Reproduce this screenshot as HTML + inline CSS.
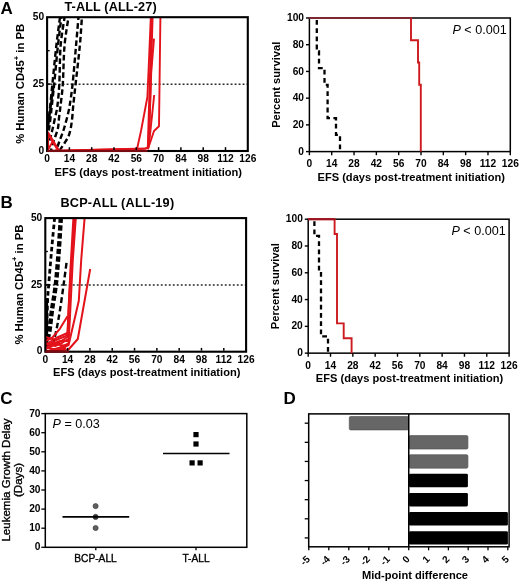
<!DOCTYPE html>
<html><head><meta charset="utf-8"><style>
html,body{margin:0;padding:0;background:#fff;}
svg{display:block;filter:blur(0.3px);}
text{font-family:"Liberation Sans",sans-serif;fill:#000;}
</style></head><body>
<svg width="520" height="583" viewBox="0 0 520 583">
<rect width="520" height="583" fill="#fff"/>
<text x="0.60" y="13.60" font-size="17" font-weight="bold" text-anchor="start" >A</text>
<text x="0.60" y="207.80" font-size="17" font-weight="bold" text-anchor="start" >B</text>
<text x="0.30" y="404.20" font-size="17" font-weight="bold" text-anchor="start" >C</text>
<text x="283.60" y="404.00" font-size="17" font-weight="bold" text-anchor="start" >D</text>
<line x1="47.10" y1="84.25" x2="247.80" y2="84.25" stroke="#2a2a2a" stroke-width="1.45" stroke-dasharray="1.9 2.1" stroke-dashoffset="0.5"/>
<polyline points="47.30,130.00 50.20,110.00 52.60,92.00 54.20,84.00" fill="none" stroke="#000" stroke-width="2.2"/>
<path d="M60.00,17.20 C59.38,22.00 57.57,34.87 56.30,46.00 C55.03,57.13 53.42,74.00 52.40,84.00 C51.38,94.00 50.77,100.50 50.20,106.00 C49.63,111.50 49.40,113.33 49.00,117.00 C48.60,120.67 48.00,126.17 47.80,128.00" fill="none" stroke-dashoffset="0" stroke="#000" stroke-width="2.4" stroke-dasharray="5.6 3.0"/>
<path d="M61.40,17.20 C60.82,22.00 59.10,34.87 57.90,46.00 C56.70,57.13 55.22,74.00 54.20,84.00 C53.18,94.00 52.40,100.50 51.80,106.00 C51.20,111.50 51.03,113.33 50.60,117.00 C50.17,120.67 49.63,124.83 49.20,128.00 C48.77,131.17 48.20,134.67 48.00,136.00" fill="none" stroke-dashoffset="3.5" stroke="#000" stroke-width="2.4" stroke-dasharray="5.6 3.0"/>
<path d="M64.60,17.20 C63.93,22.00 61.48,34.87 60.60,46.00 C59.72,57.13 59.83,74.00 59.30,84.00 C58.77,94.00 58.08,100.50 57.40,106.00 C56.72,111.50 55.97,113.33 55.20,117.00 C54.43,120.67 53.53,124.83 52.80,128.00 C52.07,131.17 51.43,133.50 50.80,136.00 C50.17,138.50 49.30,141.83 49.00,143.00" fill="none" stroke-dashoffset="1.5" stroke="#000" stroke-width="2.4" stroke-dasharray="5.6 3.0"/>
<path d="M68.50,17.20 C67.83,22.00 65.45,34.87 64.50,46.00 C63.55,57.13 63.47,74.00 62.80,84.00 C62.13,94.00 61.12,100.50 60.50,106.00 C59.88,111.50 59.52,113.33 59.10,117.00 C58.68,120.67 58.60,124.83 58.00,128.00 C57.40,131.17 56.33,133.50 55.50,136.00 C54.67,138.50 53.75,140.57 53.00,143.00 C52.25,145.43 51.33,149.33 51.00,150.60" fill="none" stroke-dashoffset="5" stroke="#000" stroke-width="2.4" stroke-dasharray="5.6 3.0"/>
<path d="M78.50,17.20 C78.08,22.00 76.98,34.87 76.00,46.00 C75.02,57.13 73.67,74.00 72.60,84.00 C71.53,94.00 70.50,100.50 69.60,106.00 C68.70,111.50 68.10,113.33 67.20,117.00 C66.30,120.67 65.17,124.83 64.20,128.00 C63.23,131.17 62.30,133.50 61.40,136.00 C60.50,138.50 59.70,140.57 58.80,143.00 C57.90,145.43 56.47,149.33 56.00,150.60" fill="none" stroke-dashoffset="2.5" stroke="#000" stroke-width="2.4" stroke-dasharray="5.6 3.0"/>
<path d="M81.90,17.20 C81.55,22.00 80.85,34.87 79.80,46.00 C78.75,57.13 76.70,74.00 75.60,84.00 C74.50,94.00 73.75,100.50 73.20,106.00 C72.65,111.50 72.70,113.33 72.30,117.00 C71.90,120.67 71.42,124.83 70.80,128.00 C70.18,131.17 69.63,133.50 68.60,136.00 C67.57,138.50 66.12,140.57 64.60,143.00 C63.08,145.43 60.35,149.33 59.50,150.60" fill="none" stroke-dashoffset="6" stroke="#000" stroke-width="2.4" stroke-dasharray="5.6 3.0"/>
<polyline points="47.20,151.00 136.60,151.00 141.00,131.00 147.40,97.00 149.00,60.00 150.80,17.20" fill="none" stroke="#e3121b" stroke-width="1.9" stroke-linejoin="round"/>
<polyline points="47.20,151.00 145.00,148.80 147.80,147.40 148.30,130.00 149.80,80.00 151.70,17.20" fill="none" stroke="#e3121b" stroke-width="1.9" stroke-linejoin="round"/>
<polyline points="47.20,151.00 146.00,148.40 148.80,146.40 149.50,130.00 150.80,80.00 152.60,17.20" fill="none" stroke="#e3121b" stroke-width="1.9" stroke-linejoin="round"/>
<polyline points="148.00,148.80 150.00,135.00 154.20,95.00" fill="none" stroke="#e3121b" stroke-width="1.9" stroke-linejoin="round"/>
<polyline points="148.60,140.00 150.20,100.00 151.20,73.00 154.00,38.60" fill="none" stroke="#e3121b" stroke-width="1.9" stroke-linejoin="round"/>
<polyline points="147.80,149.40 154.00,131.00 159.00,126.20 159.60,80.00 160.40,17.20" fill="none" stroke="#e3121b" stroke-width="1.9" stroke-linejoin="round"/>
<polyline points="47.40,151.00 53.50,140.00" fill="none" stroke="#e3121b" stroke-width="1.9" stroke-linejoin="round"/>
<polyline points="47.40,132.20 58.80,151.00" fill="none" stroke="#e3121b" stroke-width="2.8"/>
<line x1="48.00" y1="132.50" x2="48.00" y2="150.00" stroke="#e3121b" stroke-width="2.2"/>
<rect x="47.10" y="17.20" width="200.70" height="133.80" fill="none" stroke="#000" stroke-width="2.1"/>
<line x1="47.10" y1="151.00" x2="147.50" y2="151.00" stroke="#780a12" stroke-width="2.2"/>
<text x="64.40" y="11.10" font-size="12.7" font-weight="bold" text-anchor="start" letter-spacing="0.12">T-ALL (ALL-27)</text>
<text x="44.10" y="19.90" font-size="10.2" font-weight="bold" text-anchor="end" >50</text>
<text x="44.10" y="86.80" font-size="10.2" font-weight="bold" text-anchor="end" >25</text>
<text x="44.10" y="153.70" font-size="10.2" font-weight="bold" text-anchor="end" >0</text>
<line x1="47.10" y1="117.55" x2="49.70" y2="117.55" stroke="#000" stroke-width="1.3"/>
<line x1="47.10" y1="50.65" x2="49.70" y2="50.65" stroke="#000" stroke-width="1.3"/>
<line x1="47.10" y1="84.10" x2="50.60" y2="84.10" stroke="#000" stroke-width="1.6"/>
<text x="47.10" y="162.10" font-size="10.2" font-weight="bold" text-anchor="middle" >0</text>
<line x1="69.40" y1="150.00" x2="69.40" y2="147.20" stroke="#000" stroke-width="1.5"/>
<text x="69.40" y="162.10" font-size="10.2" font-weight="bold" text-anchor="middle" >14</text>
<line x1="91.70" y1="150.00" x2="91.70" y2="147.20" stroke="#000" stroke-width="1.5"/>
<text x="91.70" y="162.10" font-size="10.2" font-weight="bold" text-anchor="middle" >28</text>
<line x1="114.00" y1="150.00" x2="114.00" y2="147.20" stroke="#000" stroke-width="1.5"/>
<text x="114.00" y="162.10" font-size="10.2" font-weight="bold" text-anchor="middle" >42</text>
<line x1="136.30" y1="150.00" x2="136.30" y2="147.20" stroke="#000" stroke-width="1.5"/>
<text x="136.30" y="162.10" font-size="10.2" font-weight="bold" text-anchor="middle" >56</text>
<line x1="158.60" y1="150.00" x2="158.60" y2="147.20" stroke="#000" stroke-width="1.5"/>
<text x="158.60" y="162.10" font-size="10.2" font-weight="bold" text-anchor="middle" >70</text>
<line x1="180.90" y1="150.00" x2="180.90" y2="147.20" stroke="#000" stroke-width="1.5"/>
<text x="180.90" y="162.10" font-size="10.2" font-weight="bold" text-anchor="middle" >84</text>
<line x1="203.20" y1="150.00" x2="203.20" y2="147.20" stroke="#000" stroke-width="1.5"/>
<text x="203.20" y="162.10" font-size="10.2" font-weight="bold" text-anchor="middle" >98</text>
<line x1="225.50" y1="150.00" x2="225.50" y2="147.20" stroke="#000" stroke-width="1.5"/>
<text x="225.50" y="162.10" font-size="10.2" font-weight="bold" text-anchor="middle" >112</text>
<text x="247.80" y="162.10" font-size="10.2" font-weight="bold" text-anchor="middle" >126</text>
<text transform="translate(24.00 83.85) rotate(-90)" font-size="11.3" font-weight="bold" text-anchor="middle">% Human CD45<tspan font-size="7.6" dy="-5.5">+</tspan><tspan dy="5.5"> in PB</tspan></text>
<text x="54.60" y="175.60" font-size="11.1" font-weight="bold" text-anchor="start" >EFS (days post-treatment initiation)</text>
<line x1="45.30" y1="285.05" x2="246.10" y2="285.05" stroke="#2a2a2a" stroke-width="1.45" stroke-dasharray="1.9 2.1" stroke-dashoffset="0.5"/>
<path d="M46.60,340.00 C46.67,336.67 46.83,326.67 47.00,320.00 C47.17,313.33 47.32,305.88 47.60,300.00 C47.88,294.12 48.03,293.03 48.70,284.70 C49.37,276.37 50.62,261.10 51.60,250.00 C52.58,238.90 54.10,223.42 54.60,218.10" fill="none" stroke="#000" stroke-width="2.8" stroke-dasharray="4.6 2.8"/>
<line x1="47.00" y1="298.00" x2="47.00" y2="342.00" stroke="#000" stroke-width="2.2"/>
<path d="M47.20,347.00 C47.33,345.50 47.60,340.83 48.00,338.00 C48.40,335.17 48.93,334.67 49.60,330.00 C50.27,325.33 50.97,317.55 52.00,310.00 C53.03,302.45 54.67,294.70 55.80,284.70 C56.93,274.70 57.97,261.10 58.80,250.00 C59.63,238.90 60.47,223.42 60.80,218.10" fill="none" stroke="#000" stroke-width="4.4" stroke-dasharray="5.4 2.4"/>
<path d="M52.80,345.00 C53.40,342.50 55.20,335.83 56.40,330.00 C57.60,324.17 58.80,317.55 60.00,310.00 C61.20,302.45 62.47,292.92 63.60,284.70 C64.73,276.48 66.27,264.70 66.80,260.70" fill="none" stroke="#000" stroke-width="2.4" stroke-dasharray="5.6 3.0"/>
<polyline points="45.50,349.00 58.00,343.00 67.50,337.00 68.20,320.00 70.40,270.00 73.40,218.10" fill="none" stroke="#e3121b" stroke-width="2.0" stroke-linejoin="round"/>
<polyline points="45.50,345.00 56.00,338.00 67.50,333.00 69.00,300.00 71.60,260.00 74.60,218.10" fill="none" stroke="#e3121b" stroke-width="2.0" stroke-linejoin="round"/>
<polyline points="45.50,351.60 60.00,347.50 68.50,343.50 69.80,320.00 72.80,260.00 75.80,218.10" fill="none" stroke="#e3121b" stroke-width="2.0" stroke-linejoin="round"/>
<polyline points="45.50,341.00 52.00,338.00 60.00,328.60 67.50,316.30" fill="none" stroke="#e3121b" stroke-width="2.0" stroke-linejoin="round"/>
<polyline points="45.50,351.60 60.00,349.00 68.60,345.00 78.80,300.80 81.20,260.00 84.60,218.10" fill="none" stroke="#e3121b" stroke-width="2.0" stroke-linejoin="round"/>
<polyline points="45.50,351.60 68.60,349.50 77.80,339.00 90.20,269.00" fill="none" stroke="#e3121b" stroke-width="2.0" stroke-linejoin="round"/>
<polyline points="45.50,343.00 55.00,346.00 62.00,343.00 68.00,339.00" fill="none" stroke="#e3121b" stroke-width="2.0" stroke-linejoin="round"/>
<polyline points="45.50,347.00 55.00,349.50 66.00,348.00" fill="none" stroke="#e3121b" stroke-width="2.0" stroke-linejoin="round"/>
<polyline points="45.50,337.00 56.00,340.00 66.00,336.00 68.50,332.00" fill="none" stroke="#e3121b" stroke-width="2.0" stroke-linejoin="round"/>
<polyline points="45.50,349.00 52.00,344.00 60.00,341.00 68.00,341.00" fill="none" stroke="#e3121b" stroke-width="2.0" stroke-linejoin="round"/>
<polyline points="47.00,345.00 54.00,342.00 60.00,345.00 67.00,346.00" fill="none" stroke="#e3121b" stroke-width="2.0" stroke-linejoin="round"/>
<rect x="45.30" y="218.10" width="200.80" height="133.60" fill="none" stroke="#000" stroke-width="2.1"/>
<line x1="45.30" y1="351.70" x2="69.00" y2="351.70" stroke="#780a12" stroke-width="2.2"/>
<text x="60.40" y="206.90" font-size="12.7" font-weight="bold" text-anchor="start" letter-spacing="0.22">BCP-ALL (ALL-19)</text>
<text x="42.30" y="220.80" font-size="10.2" font-weight="bold" text-anchor="end" >50</text>
<text x="42.30" y="287.60" font-size="10.2" font-weight="bold" text-anchor="end" >25</text>
<text x="42.30" y="354.40" font-size="10.2" font-weight="bold" text-anchor="end" >0</text>
<line x1="45.30" y1="318.30" x2="47.90" y2="318.30" stroke="#000" stroke-width="1.3"/>
<line x1="45.30" y1="251.50" x2="47.90" y2="251.50" stroke="#000" stroke-width="1.3"/>
<line x1="45.30" y1="284.90" x2="48.80" y2="284.90" stroke="#000" stroke-width="1.6"/>
<text x="45.30" y="362.60" font-size="10.2" font-weight="bold" text-anchor="middle" >0</text>
<line x1="67.61" y1="350.70" x2="67.61" y2="347.90" stroke="#000" stroke-width="1.5"/>
<text x="67.61" y="362.60" font-size="10.2" font-weight="bold" text-anchor="middle" >14</text>
<line x1="89.92" y1="350.70" x2="89.92" y2="347.90" stroke="#000" stroke-width="1.5"/>
<text x="89.92" y="362.60" font-size="10.2" font-weight="bold" text-anchor="middle" >28</text>
<line x1="112.23" y1="350.70" x2="112.23" y2="347.90" stroke="#000" stroke-width="1.5"/>
<text x="112.23" y="362.60" font-size="10.2" font-weight="bold" text-anchor="middle" >42</text>
<line x1="134.54" y1="350.70" x2="134.54" y2="347.90" stroke="#000" stroke-width="1.5"/>
<text x="134.54" y="362.60" font-size="10.2" font-weight="bold" text-anchor="middle" >56</text>
<line x1="156.86" y1="350.70" x2="156.86" y2="347.90" stroke="#000" stroke-width="1.5"/>
<text x="156.86" y="362.60" font-size="10.2" font-weight="bold" text-anchor="middle" >70</text>
<line x1="179.17" y1="350.70" x2="179.17" y2="347.90" stroke="#000" stroke-width="1.5"/>
<text x="179.17" y="362.60" font-size="10.2" font-weight="bold" text-anchor="middle" >84</text>
<line x1="201.48" y1="350.70" x2="201.48" y2="347.90" stroke="#000" stroke-width="1.5"/>
<text x="201.48" y="362.60" font-size="10.2" font-weight="bold" text-anchor="middle" >98</text>
<line x1="223.79" y1="350.70" x2="223.79" y2="347.90" stroke="#000" stroke-width="1.5"/>
<text x="223.79" y="362.60" font-size="10.2" font-weight="bold" text-anchor="middle" >112</text>
<text x="246.10" y="362.60" font-size="10.2" font-weight="bold" text-anchor="middle" >126</text>
<text transform="translate(22.60 284.60) rotate(-90)" font-size="11.3" font-weight="bold" text-anchor="middle">% Human CD45<tspan font-size="7.6" dy="-5.5">+</tspan><tspan dy="5.5"> in PB</tspan></text>
<text x="53.00" y="376.00" font-size="11.1" font-weight="bold" text-anchor="start" >EFS (days post-treatment initiation)</text>
<rect x="309.40" y="18.00" width="200.90" height="133.60" fill="none" stroke="#000" stroke-width="1.5"/>
<line x1="306.00" y1="151.60" x2="309.40" y2="151.60" stroke="#000" stroke-width="1.4"/>
<text x="304.00" y="154.70" font-size="10.2" font-weight="bold" text-anchor="end" >0</text>
<line x1="306.00" y1="124.88" x2="309.40" y2="124.88" stroke="#000" stroke-width="1.4"/>
<text x="304.00" y="127.98" font-size="10.2" font-weight="bold" text-anchor="end" >20</text>
<line x1="306.00" y1="98.16" x2="309.40" y2="98.16" stroke="#000" stroke-width="1.4"/>
<text x="304.00" y="101.26" font-size="10.2" font-weight="bold" text-anchor="end" >40</text>
<line x1="306.00" y1="71.44" x2="309.40" y2="71.44" stroke="#000" stroke-width="1.4"/>
<text x="304.00" y="74.54" font-size="10.2" font-weight="bold" text-anchor="end" >60</text>
<line x1="306.00" y1="44.72" x2="309.40" y2="44.72" stroke="#000" stroke-width="1.4"/>
<text x="304.00" y="47.82" font-size="10.2" font-weight="bold" text-anchor="end" >80</text>
<line x1="306.00" y1="18.00" x2="309.40" y2="18.00" stroke="#000" stroke-width="1.4"/>
<text x="304.00" y="21.10" font-size="10.2" font-weight="bold" text-anchor="end" >100</text>
<line x1="309.40" y1="151.60" x2="309.40" y2="155.20" stroke="#000" stroke-width="1.4"/>
<text x="309.40" y="166.60" font-size="10.2" font-weight="bold" text-anchor="middle" >0</text>
<line x1="331.72" y1="151.60" x2="331.72" y2="155.20" stroke="#000" stroke-width="1.4"/>
<text x="331.72" y="166.60" font-size="10.2" font-weight="bold" text-anchor="middle" >14</text>
<line x1="354.04" y1="151.60" x2="354.04" y2="155.20" stroke="#000" stroke-width="1.4"/>
<text x="354.04" y="166.60" font-size="10.2" font-weight="bold" text-anchor="middle" >28</text>
<line x1="376.37" y1="151.60" x2="376.37" y2="155.20" stroke="#000" stroke-width="1.4"/>
<text x="376.37" y="166.60" font-size="10.2" font-weight="bold" text-anchor="middle" >42</text>
<line x1="398.69" y1="151.60" x2="398.69" y2="155.20" stroke="#000" stroke-width="1.4"/>
<text x="398.69" y="166.60" font-size="10.2" font-weight="bold" text-anchor="middle" >56</text>
<line x1="421.01" y1="151.60" x2="421.01" y2="155.20" stroke="#000" stroke-width="1.4"/>
<text x="421.01" y="166.60" font-size="10.2" font-weight="bold" text-anchor="middle" >70</text>
<line x1="443.33" y1="151.60" x2="443.33" y2="155.20" stroke="#000" stroke-width="1.4"/>
<text x="443.33" y="166.60" font-size="10.2" font-weight="bold" text-anchor="middle" >84</text>
<line x1="465.66" y1="151.60" x2="465.66" y2="155.20" stroke="#000" stroke-width="1.4"/>
<text x="465.66" y="166.60" font-size="10.2" font-weight="bold" text-anchor="middle" >98</text>
<line x1="487.98" y1="151.60" x2="487.98" y2="155.20" stroke="#000" stroke-width="1.4"/>
<text x="487.98" y="166.60" font-size="10.2" font-weight="bold" text-anchor="middle" >112</text>
<line x1="510.30" y1="151.60" x2="510.30" y2="155.20" stroke="#000" stroke-width="1.4"/>
<text x="510.30" y="166.60" font-size="10.2" font-weight="bold" text-anchor="middle" >126</text>
<text x="452.40" y="34.20" font-size="12.6" text-anchor="start"><tspan font-style="italic">P</tspan> &lt; 0.001</text>
<text x="317.50" y="180.60" font-size="11.1" font-weight="bold" text-anchor="start" >EFS (days post-treatment initiation)</text>
<text x="280.40" y="84.80" font-size="11.15" font-weight="bold" text-anchor="middle" transform="rotate(-90 280.40 84.80)" >Percent survival</text>
<polyline points="309.40,18.00 411.00,18.00 411.00,40.27 418.00,40.27 418.00,62.53 419.20,62.53 419.20,84.80 420.80,84.80 420.80,151.60" fill="none" stroke="#cc1a1f" stroke-width="1.9"/>
<line x1="309.40" y1="18.00" x2="411.00" y2="18.00" stroke="#7c2833" stroke-width="1.9"/>
<polyline points="316.80,20.00 316.80,51.40 319.00,51.40 319.00,68.10 324.50,68.10 324.50,84.80 327.60,84.80 327.60,118.20 336.00,118.20 336.00,134.90 340.00,134.90 340.00,151.60" fill="none" stroke="#000" stroke-width="2.3" stroke-dasharray="4.8 3.4"/>
<rect x="308.20" y="219.20" width="200.90" height="133.95" fill="none" stroke="#000" stroke-width="1.5"/>
<line x1="304.80" y1="353.15" x2="308.20" y2="353.15" stroke="#000" stroke-width="1.4"/>
<text x="302.80" y="356.25" font-size="10.2" font-weight="bold" text-anchor="end" >0</text>
<line x1="304.80" y1="326.36" x2="308.20" y2="326.36" stroke="#000" stroke-width="1.4"/>
<text x="302.80" y="329.46" font-size="10.2" font-weight="bold" text-anchor="end" >20</text>
<line x1="304.80" y1="299.57" x2="308.20" y2="299.57" stroke="#000" stroke-width="1.4"/>
<text x="302.80" y="302.67" font-size="10.2" font-weight="bold" text-anchor="end" >40</text>
<line x1="304.80" y1="272.78" x2="308.20" y2="272.78" stroke="#000" stroke-width="1.4"/>
<text x="302.80" y="275.88" font-size="10.2" font-weight="bold" text-anchor="end" >60</text>
<line x1="304.80" y1="245.99" x2="308.20" y2="245.99" stroke="#000" stroke-width="1.4"/>
<text x="302.80" y="249.09" font-size="10.2" font-weight="bold" text-anchor="end" >80</text>
<line x1="304.80" y1="219.20" x2="308.20" y2="219.20" stroke="#000" stroke-width="1.4"/>
<text x="302.80" y="222.30" font-size="10.2" font-weight="bold" text-anchor="end" >100</text>
<line x1="308.20" y1="353.15" x2="308.20" y2="356.75" stroke="#000" stroke-width="1.4"/>
<text x="308.20" y="368.60" font-size="10.2" font-weight="bold" text-anchor="middle" >0</text>
<line x1="330.52" y1="353.15" x2="330.52" y2="356.75" stroke="#000" stroke-width="1.4"/>
<text x="330.52" y="368.60" font-size="10.2" font-weight="bold" text-anchor="middle" >14</text>
<line x1="352.84" y1="353.15" x2="352.84" y2="356.75" stroke="#000" stroke-width="1.4"/>
<text x="352.84" y="368.60" font-size="10.2" font-weight="bold" text-anchor="middle" >28</text>
<line x1="375.17" y1="353.15" x2="375.17" y2="356.75" stroke="#000" stroke-width="1.4"/>
<text x="375.17" y="368.60" font-size="10.2" font-weight="bold" text-anchor="middle" >42</text>
<line x1="397.49" y1="353.15" x2="397.49" y2="356.75" stroke="#000" stroke-width="1.4"/>
<text x="397.49" y="368.60" font-size="10.2" font-weight="bold" text-anchor="middle" >56</text>
<line x1="419.81" y1="353.15" x2="419.81" y2="356.75" stroke="#000" stroke-width="1.4"/>
<text x="419.81" y="368.60" font-size="10.2" font-weight="bold" text-anchor="middle" >70</text>
<line x1="442.13" y1="353.15" x2="442.13" y2="356.75" stroke="#000" stroke-width="1.4"/>
<text x="442.13" y="368.60" font-size="10.2" font-weight="bold" text-anchor="middle" >84</text>
<line x1="464.46" y1="353.15" x2="464.46" y2="356.75" stroke="#000" stroke-width="1.4"/>
<text x="464.46" y="368.60" font-size="10.2" font-weight="bold" text-anchor="middle" >98</text>
<line x1="486.78" y1="353.15" x2="486.78" y2="356.75" stroke="#000" stroke-width="1.4"/>
<text x="486.78" y="368.60" font-size="10.2" font-weight="bold" text-anchor="middle" >112</text>
<line x1="509.10" y1="353.15" x2="509.10" y2="356.75" stroke="#000" stroke-width="1.4"/>
<text x="509.10" y="368.60" font-size="10.2" font-weight="bold" text-anchor="middle" >126</text>
<text x="451.40" y="234.60" font-size="12.6" text-anchor="start"><tspan font-style="italic">P</tspan> &lt; 0.001</text>
<text x="315.80" y="381.50" font-size="11.1" font-weight="bold" text-anchor="start" >EFS (days post-treatment initiation)</text>
<text x="279.40" y="286.17" font-size="11.15" font-weight="bold" text-anchor="middle" transform="rotate(-90 279.40 286.17)" >Percent survival</text>
<polyline points="308.20,219.20 334.60,219.20 334.60,234.07 337.00,234.07 337.00,323.41 343.70,323.41 343.70,338.28 351.60,338.28 351.60,353.15" fill="none" stroke="#cc1a1f" stroke-width="1.9"/>
<line x1="308.20" y1="219.20" x2="334.60" y2="219.20" stroke="#9a1522" stroke-width="1.9"/>
<polyline points="314.40,221.20 314.40,235.94 319.00,235.94 319.00,269.43 321.00,269.43 321.00,336.41 328.00,336.41 328.00,353.15" fill="none" stroke="#000" stroke-width="2.3" stroke-dasharray="4.8 3.4"/>
<rect x="45.30" y="413.60" width="201.50" height="133.70" fill="none" stroke="#000" stroke-width="1.5"/>
<line x1="41.30" y1="547.30" x2="45.30" y2="547.30" stroke="#000" stroke-width="1.3"/>
<text x="40.50" y="550.40" font-size="10.2" font-weight="bold" text-anchor="end" >0</text>
<line x1="41.30" y1="528.20" x2="45.30" y2="528.20" stroke="#000" stroke-width="1.3"/>
<text x="40.50" y="531.30" font-size="10.2" font-weight="bold" text-anchor="end" >10</text>
<line x1="41.30" y1="509.10" x2="45.30" y2="509.10" stroke="#000" stroke-width="1.3"/>
<text x="40.50" y="512.20" font-size="10.2" font-weight="bold" text-anchor="end" >20</text>
<line x1="41.30" y1="490.00" x2="45.30" y2="490.00" stroke="#000" stroke-width="1.3"/>
<text x="40.50" y="493.10" font-size="10.2" font-weight="bold" text-anchor="end" >30</text>
<line x1="41.30" y1="470.90" x2="45.30" y2="470.90" stroke="#000" stroke-width="1.3"/>
<text x="40.50" y="474.00" font-size="10.2" font-weight="bold" text-anchor="end" >40</text>
<line x1="41.30" y1="451.80" x2="45.30" y2="451.80" stroke="#000" stroke-width="1.3"/>
<text x="40.50" y="454.90" font-size="10.2" font-weight="bold" text-anchor="end" >50</text>
<line x1="41.30" y1="432.70" x2="45.30" y2="432.70" stroke="#000" stroke-width="1.3"/>
<text x="40.50" y="435.80" font-size="10.2" font-weight="bold" text-anchor="end" >60</text>
<line x1="41.30" y1="413.60" x2="45.30" y2="413.60" stroke="#000" stroke-width="1.3"/>
<text x="40.50" y="416.70" font-size="10.2" font-weight="bold" text-anchor="end" >70</text>
<line x1="95.80" y1="547.30" x2="95.80" y2="550.30" stroke="#000" stroke-width="1.3"/>
<line x1="196.00" y1="547.30" x2="196.00" y2="550.30" stroke="#000" stroke-width="1.3"/>
<text x="52.5" y="428.4" font-size="12.6"><tspan font-style="italic">P</tspan> = 0.03</text>
<circle cx="95.6" cy="506.1" r="2.6" fill="#5e5e5e" stroke="#3a3a3a" stroke-width="0.6"/>
<circle cx="95.6" cy="516.9" r="2.6" fill="#333" stroke="#3a3a3a" stroke-width="0.6"/>
<circle cx="95.6" cy="528.0" r="2.6" fill="#5e5e5e" stroke="#3a3a3a" stroke-width="0.6"/>
<line x1="62.50" y1="516.90" x2="129.20" y2="516.90" stroke="#000" stroke-width="1.6"/>
<line x1="163.00" y1="453.50" x2="229.50" y2="453.50" stroke="#000" stroke-width="1.6"/>
<rect x="193.40" y="432.00" width="5.2" height="5.2" fill="#000"/>
<rect x="193.40" y="441.40" width="5.2" height="5.2" fill="#000"/>
<rect x="189.50" y="460.30" width="5.2" height="5.2" fill="#000"/>
<rect x="197.50" y="460.30" width="5.2" height="5.2" fill="#000"/>
<text x="95.50" y="562.20" font-size="10.2" font-weight="normal" text-anchor="middle" stroke="#000" stroke-width="0.35">BCP-ALL</text>
<text x="196.00" y="562.20" font-size="10.2" font-weight="normal" text-anchor="middle" stroke="#000" stroke-width="0.35">T-ALL</text>
<text x="9.50" y="480.00" font-size="11.55" font-weight="normal" text-anchor="middle" transform="rotate(-90 9.50 480.00)" stroke="#000" stroke-width="0.35">Leukemia Growth Delay</text>
<text x="22.40" y="480.00" font-size="11.6" font-weight="normal" text-anchor="middle" transform="rotate(-90 22.40 480.00)" stroke="#000" stroke-width="0.35">(Days)</text>
<rect x="349.30" y="416.50" width="59.15" height="13.4" rx="1.3" fill="#666" stroke="#555" stroke-width="0.7"/>
<line x1="304.70" y1="423.20" x2="308.70" y2="423.20" stroke="#000" stroke-width="1.3"/>
<rect x="409.05" y="435.62" width="58.85" height="13.4" rx="1.3" fill="#666" stroke="#555" stroke-width="0.7"/>
<line x1="304.70" y1="442.32" x2="308.70" y2="442.32" stroke="#000" stroke-width="1.3"/>
<rect x="409.05" y="454.74" width="58.85" height="13.4" rx="1.3" fill="#666" stroke="#555" stroke-width="0.7"/>
<line x1="304.70" y1="461.44" x2="308.70" y2="461.44" stroke="#000" stroke-width="1.3"/>
<rect x="409.05" y="473.86" width="58.85" height="13.4" rx="1.3" fill="#000"/>
<line x1="304.70" y1="480.56" x2="308.70" y2="480.56" stroke="#000" stroke-width="1.3"/>
<rect x="409.05" y="492.98" width="58.85" height="13.4" rx="1.3" fill="#000"/>
<line x1="304.70" y1="499.68" x2="308.70" y2="499.68" stroke="#000" stroke-width="1.3"/>
<rect x="409.05" y="512.10" width="98.85" height="13.4" rx="1.3" fill="#000"/>
<line x1="304.70" y1="518.80" x2="308.70" y2="518.80" stroke="#000" stroke-width="1.3"/>
<rect x="409.05" y="531.22" width="98.85" height="13.4" rx="1.3" fill="#000"/>
<line x1="304.70" y1="537.92" x2="308.70" y2="537.92" stroke="#000" stroke-width="1.3"/>
<rect x="308.70" y="413.90" width="200.40" height="132.90" fill="none" stroke="#000" stroke-width="1.5"/>
<line x1="408.75" y1="413.90" x2="408.75" y2="546.80" stroke="#000" stroke-width="1.5"/>
<line x1="308.80" y1="546.80" x2="308.80" y2="550.30" stroke="#000" stroke-width="1.3"/>
<text transform="translate(310.60 559.70) rotate(-45)" font-size="10" font-weight="bold" text-anchor="end">-5</text>
<line x1="328.80" y1="546.80" x2="328.80" y2="550.30" stroke="#000" stroke-width="1.3"/>
<text transform="translate(330.60 559.70) rotate(-45)" font-size="10" font-weight="bold" text-anchor="end">-4</text>
<line x1="348.80" y1="546.80" x2="348.80" y2="550.30" stroke="#000" stroke-width="1.3"/>
<text transform="translate(350.60 559.70) rotate(-45)" font-size="10" font-weight="bold" text-anchor="end">-3</text>
<line x1="368.80" y1="546.80" x2="368.80" y2="550.30" stroke="#000" stroke-width="1.3"/>
<text transform="translate(370.60 559.70) rotate(-45)" font-size="10" font-weight="bold" text-anchor="end">-2</text>
<line x1="388.80" y1="546.80" x2="388.80" y2="550.30" stroke="#000" stroke-width="1.3"/>
<text transform="translate(390.60 559.70) rotate(-45)" font-size="10" font-weight="bold" text-anchor="end">-1</text>
<line x1="408.75" y1="546.80" x2="408.75" y2="550.30" stroke="#000" stroke-width="1.3"/>
<text transform="translate(410.55 559.70) rotate(-45)" font-size="10" font-weight="bold" text-anchor="end">0</text>
<line x1="428.60" y1="546.80" x2="428.60" y2="550.30" stroke="#000" stroke-width="1.3"/>
<text transform="translate(430.40 559.70) rotate(-45)" font-size="10" font-weight="bold" text-anchor="end">1</text>
<line x1="448.40" y1="546.80" x2="448.40" y2="550.30" stroke="#000" stroke-width="1.3"/>
<text transform="translate(450.20 559.70) rotate(-45)" font-size="10" font-weight="bold" text-anchor="end">2</text>
<line x1="468.20" y1="546.80" x2="468.20" y2="550.30" stroke="#000" stroke-width="1.3"/>
<text transform="translate(470.00 559.70) rotate(-45)" font-size="10" font-weight="bold" text-anchor="end">3</text>
<line x1="488.00" y1="546.80" x2="488.00" y2="550.30" stroke="#000" stroke-width="1.3"/>
<text transform="translate(489.80 559.70) rotate(-45)" font-size="10" font-weight="bold" text-anchor="end">4</text>
<line x1="507.80" y1="546.80" x2="507.80" y2="550.30" stroke="#000" stroke-width="1.3"/>
<text transform="translate(509.60 559.70) rotate(-45)" font-size="10" font-weight="bold" text-anchor="end">5</text>
<text x="362.00" y="579.40" font-size="11.1" font-weight="bold" text-anchor="start" >Mid-point difference</text>
</svg>
</body></html>
